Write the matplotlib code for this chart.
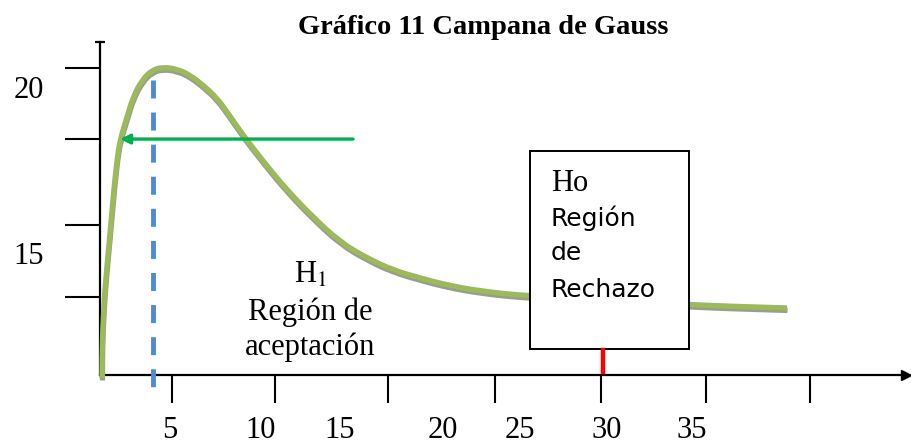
import matplotlib.pyplot as plt
import matplotlib.patheffects as pe
from matplotlib.patches import Rectangle, PathPatch
from matplotlib.path import Path

# curve (x in axis units 0-39.75, y in axis units 0-22.2)
curve_x = [0.099, 0.099, 0.148, 0.247, 0.395, 0.543, 0.691, 0.838, 0.986, 1.332,
           1.628, 2.072, 2.565, 3.107, 3.798, 4.439, 5.080, 5.771, 6.412, 7.053,
           8.039, 9.223, 10.506, 11.837, 13.169, 14.451, 15.783, 17.115, 18.742,
           21.060, 29.100, 33.884]
curve_y = [-0.2, 1.33, 3.53, 5.8, 8.0, 10.2, 12.47, 14.33, 15.67, 17.2,
           18.53, 19.67, 20.33, 20.53, 20.4, 20.0, 19.33, 18.47, 17.27, 16.0,
           14.27, 12.33, 10.53, 8.87, 7.8, 7.0, 6.47, 6.0, 5.6,
           5.27, 4.67, 4.47]

xtick_pos = [3.55, 8.63, 14.2, 19.5, 24.7, 29.9, 35.0]
ytick_pos = [5.2, 10.0, 15.73, 20.47]
xlabel_pos = [3.45, 7.9, 11.8, 16.9, 20.7, 25.0, 29.2]
xlabel_txt = ['5', '10', '15', '20', '25', '30', '35']
ylabel_pos = [19.0, 7.9]
ylabel_txt = ['20', '15']

mean_x = 2.61
arrow_y = 15.73
arrow_x = [12.48, 0.99]
box_x = [21.2, 29.05]
box_y = [1.73, 14.93]
crit_x = 24.8

serif = 'Liberation Serif'
plt.rcParams['mathtext.fontset'] = 'stix'

fig = plt.figure(figsize=(9.11, 4.48), dpi=100)
ax = fig.add_axes([100 / 911, 73 / 448, 806 / 911, 333 / 448])
ax.set_xlim(0, 39.75)
ax.set_ylim(0, 22.2)

for s in ['top', 'right']:
    ax.spines[s].set_visible(False)
for s in ['left', 'bottom']:
    ax.spines[s].set_linewidth(1.6)
ax.plot(1, 0, '>k', ms=7, transform=ax.get_yaxis_transform(), clip_on=False)
ax.plot(0, 1, '_k', ms=7, mew=1.6, transform=ax.get_xaxis_transform(), clip_on=False)

ax.set_xticks(xtick_pos)
ax.set_yticks(ytick_pos)
ax.set_xticklabels([])
ax.set_yticklabels([])
ax.tick_params(axis='x', direction='out', length=20, width=1.5)
ax.tick_params(axis='y', direction='out', length=25, width=1.5)

for xp, t in zip(xlabel_pos, xlabel_txt):
    ax.text(xp, -3.7, t, ha='center', va='center', fontsize=22,
            family=serif, clip_on=False)
for yp, t in zip(ylabel_pos, ylabel_txt):
    ax.text(-2.75, yp, t, ha='right', va='center', fontsize=22,
            family=serif, clip_on=False)

# bell curve: read points used as quadratic bezier controls, so the stroke is smooth
pts = list(zip(curve_x, curve_y))
verts = [pts[0]]
codes = [Path.MOVETO]
for i in range(1, len(pts) - 1):
    nxt = ((pts[i][0] + pts[i + 1][0]) / 2, (pts[i][1] + pts[i + 1][1]) / 2)
    verts += [pts[i], nxt]
    codes += [Path.CURVE3, Path.CURVE3]
verts.append(pts[-1])
codes.append(Path.LINETO)
curve = PathPatch(Path(verts, codes), fill=False, edgecolor='#9BBB59', lw=3.8,
                  capstyle='butt', clip_on=False, zorder=3,
                  path_effects=[pe.SimpleLineShadow(offset=(0.3, -1.8),
                                                    shadow_color='#9a9a9a', alpha=1),
                                pe.Normal()])
ax.add_patch(curve)

# dashed mean line
ax.plot([mean_x, mean_x], [19.67, -1.27], color='#4F8AD6', lw=3.5, ls=(0, (3.7, 2.9)),
        clip_on=False, zorder=4)

# green arrow
ax.annotate('', xy=(arrow_x[1], arrow_y), xytext=(arrow_x[0], arrow_y),
            arrowprops=dict(arrowstyle='-|>', color='#00B050', lw=2.4,
                            mutation_scale=14, shrinkA=0, shrinkB=0), zorder=5)

# rejection box
ax.add_patch(Rectangle((box_x[0], box_y[0]), box_x[1] - box_x[0], box_y[1] - box_y[0],
                       facecolor='white', edgecolor='black', lw=1.4, zorder=6))
ax.plot([crit_x, crit_x], [1.67, 0.2], color='#FF0000', lw=3.2, zorder=6)

ax.text(22.24, 12.27, 'Ho', fontsize=22, family=serif, va='baseline', zorder=7)
for yy, t in zip([9.93, 7.67, 5.2], ['Región', 'de', 'Rechazo']):
    ax.text(22.24, yy, t, fontsize=18, family='DejaVu Sans', va='baseline', zorder=7)

ax.text(10.36, 6.67, 'H$_1$', ha='center', va='center', fontsize=22, family=serif)
ax.text(10.36, 4.2, 'Región de', ha='center', va='center', fontsize=22, family=serif)
ax.text(10.36, 1.87, 'aceptación', ha='center', va='center', fontsize=22, family=serif)

fig.text(483 / 911, 1 - 27 / 448, 'Gráfico 11 Campana de Gauss', ha='center',
         va='center', fontsize=20.5, fontweight='bold', family=serif)

fig.savefig('out.png', dpi=100)
